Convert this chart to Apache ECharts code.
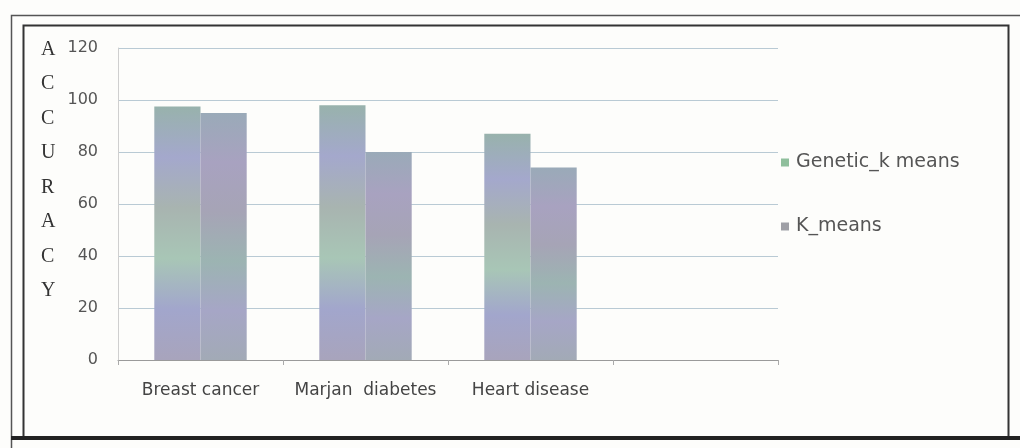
<!DOCTYPE html>
<html><head><meta charset="utf-8">
<script src="https://cdn.jsdelivr.net/npm/echarts@6/dist/echarts.min.js"></script>
<style>html,body{margin:0;padding:0;background:#fdfdfb}#c{width:1020px;height:448px}</style>
</head><body><div id="c"></div>
<script>
const categories = ['Breast cancer', 'Marjan  diabetes', 'Heart disease', ''];
const geneticKMeans = [97.5, 98, 87, null];
const kMeans = [95, 80, 74, null];
const yTicks = { min: 0, max: 120, interval: 20 };
const yTitle = 'ACCURACY';

function grad(stops) {
  return new echarts.graphic.LinearGradient(0, 0, 0, 1, stops.map((c, i) => ({ offset: i / (stops.length - 1), color: c })));
}
const chart = echarts.init(document.getElementById('c'));
chart.setOption({
  backgroundColor: '#fdfdfb',
  animation: false,
  grid: { left: 118, right: 242, top: 48, bottom: 88 },
  graphic: [
    { type: 'rect', shape: { x: 11.5, y: 15.5, width: 1030, height: 460 }, style: { fill: 'none', stroke: '#555', lineWidth: 1.5 } },
    { type: 'rect', shape: { x: 23.5, y: 25.5, width: 985, height: 412 }, style: { fill: 'none', stroke: '#333', lineWidth: 2 } },
    { type: 'rect', shape: { x: 11, y: 436, width: 1009, height: 4 }, style: { fill: '#222' } },
    { type: 'text', left: 41, top: 32, style: { text: yTitle.split('').join('\n'), font: '20px "Liberation Serif", "DejaVu Serif", serif', fill: '#333', lineHeight: 34.5, align: 'center' } }
  ],
  legend: {
    orient: 'vertical', left: 776, top: 148, itemWidth: 8, itemHeight: 8, itemGap: 45,
    icon: 'rect',
    textStyle: { fontSize: 19, color: '#555', fontFamily: '"DejaVu Sans", sans-serif', padding: [0, 0, 0, 2] },
    data: [
      { name: 'Genetic_k means', itemStyle: { color: '#8fbf9c' } },
      { name: 'K_means', itemStyle: { color: '#9fa0a6' } }
    ]
  },
  xAxis: {
    type: 'category', data: categories,
    axisLine: { lineStyle: { color: '#9a9a9a' } },
    axisTick: { show: true, interval: 0, length: 5, lineStyle: { color: '#aaa' } },
    axisLabel: { interval: 0, hideOverlap: false, color: '#444', fontSize: 17, margin: 22, fontFamily: '"DejaVu Sans", sans-serif' }
  },
  yAxis: {
    type: 'value', min: yTicks.min, max: yTicks.max, interval: yTicks.interval,
    axisLine: { show: true, lineStyle: { color: '#cfcfcf' } },
    axisTick: { show: false },
    axisLabel: { color: '#555', fontSize: 16, margin: 20, fontFamily: '"DejaVu Sans", sans-serif' },
    splitLine: { lineStyle: { color: '#b9cad4' } }
  },
  series: [
    { name: 'Genetic_k means', type: 'bar', data: geneticKMeans, barGap: '0%', barCategoryGap: '44%',
      itemStyle: { color: grad(['#98b2ac', '#a4a8cc', '#a8b4b0', '#a8c6b6', '#a2a6cc', '#a8a4bc']) } },
    { name: 'K_means', type: 'bar', data: kMeans,
      itemStyle: { color: grad(['#9aaab8', '#a8a2c0', '#a6a4b6', '#9cb4b2', '#a6a6c6', '#a2aab6']) } }
  ]
});
</script></body></html>
